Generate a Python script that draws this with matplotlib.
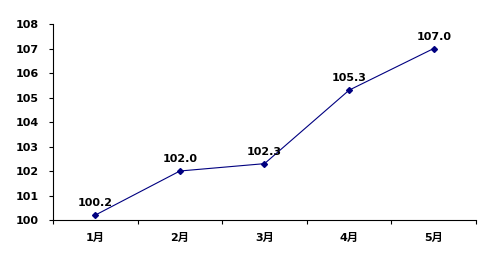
import matplotlib
matplotlib.use("Agg")
import matplotlib.pyplot as plt
import numpy as np

plt.rcParams['font.family'] = ['DejaVu Sans', 'Noto Sans CJK SC']

# data
months = ["1月", "2月", "3月", "4月", "5月"]
values = [100.2, 102.0, 102.3, 105.3, 107.0]
yticks = [100, 101, 102, 103, 104, 105, 106, 107, 108]

fig = plt.figure(figsize=(4.92, 2.63), dpi=100)
ax = fig.add_axes([0.1077, 0.1635, 0.8598, 0.7452])

x = np.arange(len(months))
ax.plot(x, values, color="#000080", linewidth=0.8, marker="D", markersize=3)

for xi, v in zip(x, values):
    ax.annotate(f"{v:.1f}", (xi, v), xytext=(0, 5), textcoords="offset points",
                ha="center", va="bottom", fontsize=8, fontweight="bold")

ax.set_xlim(-0.5, len(months) - 0.5)
ax.set_ylim(100, 108)
ax.set_yticks(yticks)
ax.set_yticklabels([str(t) for t in yticks], fontsize=8, fontweight="bold")

# ticks at category boundaries, labels at centres
ax.set_xticks(np.arange(-0.5, len(months), 1.0))
ax.set_xticklabels([])
ax.set_xticks(x, minor=True)
ax.set_xticklabels(months, minor=True, fontsize=8, fontweight="bold")
ax.tick_params(axis="x", which="minor", length=0, pad=9)
ax.tick_params(axis="x", which="major", length=3, direction="out")
ax.tick_params(axis="y", length=3, direction="out", pad=7)

ax.spines["top"].set_visible(False)
ax.spines["right"].set_visible(False)

fig.savefig("out.png", dpi=100)
